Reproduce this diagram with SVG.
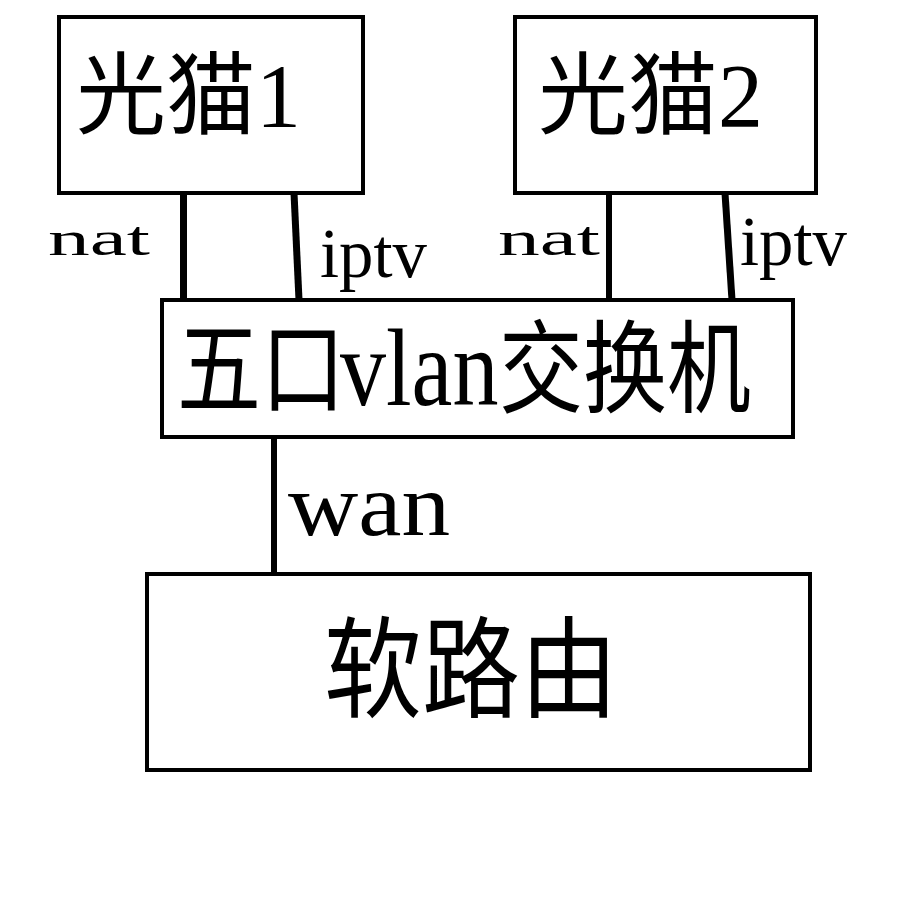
<svg xmlns="http://www.w3.org/2000/svg" width="921" height="923" viewBox="0 0 921 923">
<style>
.box{fill:#fff;stroke:#000;stroke-width:4}
.t{font-family:"Liberation Serif","Noto Sans CJK SC",serif;fill:#000}
.c{stroke:#000;stroke-linecap:butt;fill:none}
</style>
<rect width="921" height="923" fill="#fff"/>
<g id="modem1">
<rect class="box" x="59" y="17" width="304" height="176"/>
<text class="t" x="76" y="127" font-size="90">光猫1</text>
</g>
<g id="modem2">
<rect class="box" x="515" y="17" width="301" height="176"/>
<text class="t" x="538" y="127" font-size="90">光猫2</text>
</g>
<g id="switch">
<rect class="box" x="162" y="300" width="631" height="137"/>
<text class="t" transform="translate(0,405) scale(1,1.2)" font-size="84"><tspan x="177" y="0">五口</tspan><tspan x="340" y="0" font-size="92">vlan</tspan><tspan x="499" y="0">交换机</tspan></text>
</g>
<g id="router">
<rect class="box" x="147" y="574" width="663" height="196"/>
<text class="t" transform="translate(0,709) scale(1,1.12)" x="324" y="0" font-size="98">软路由</text>
</g>
<g id="connectors">
<line class="c" x1="183.5" y1="193" x2="183.5" y2="300" stroke-width="7"/>
<line class="c" x1="294" y1="193" x2="299" y2="300" stroke-width="7"/>
<line class="c" x1="609" y1="193" x2="609" y2="300" stroke-width="6"/>
<line class="c" x1="725" y1="193" x2="732" y2="300" stroke-width="7"/>
<line class="c" x1="274" y1="437" x2="274" y2="574" stroke-width="6"/>
<text class="t" x="48" y="255" font-size="48" textLength="102" lengthAdjust="spacingAndGlyphs">nat</text>
<text class="t" x="320" y="277" font-size="70" textLength="107" lengthAdjust="spacingAndGlyphs">iptv</text>
<text class="t" x="498" y="255" font-size="48" textLength="102" lengthAdjust="spacingAndGlyphs">nat</text>
<text class="t" x="740" y="265" font-size="70" textLength="107" lengthAdjust="spacingAndGlyphs">iptv</text>
<text class="t" x="288" y="535" font-size="88" textLength="162" lengthAdjust="spacingAndGlyphs">wan</text>
</g>
</svg>
